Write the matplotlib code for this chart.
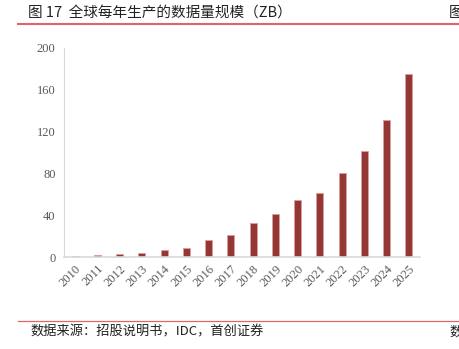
import matplotlib
matplotlib.use("Agg")
import matplotlib.pyplot as plt
from matplotlib.lines import Line2D

years = ["2010", "2011", "2012", "2013", "2014", "2015", "2016", "2017",
         "2018", "2019", "2020", "2021", "2022", "2023", "2024", "2025"]
zb = [1.2, 2, 3, 4, 6.5, 8.5, 16, 21.5, 33, 41, 55, 61.5, 80, 101, 131, 175]
yticks = [0, 40, 80, 120, 160, 200]

cjk = ["Noto Sans CJK SC", "DejaVu Sans"]

fig = plt.figure(figsize=(4.59, 3.49), dpi=100)
ax = fig.add_axes([0.1394, 0.2636, 0.7756, 0.5989])

x = range(len(years))
ax.bar(x, zb, width=0.32, color="#943634", edgecolor="#d9a0a0", linewidth=0.6)

ax.set_xlim(-0.5, len(years) - 0.5)
ax.set_ylim(0, 200)
ax.set_yticks(yticks)
ax.set_xticks(list(x))
ax.set_xticklabels(years, rotation=45, ha="right", rotation_mode="anchor")
for lab in ax.get_xticklabels() + ax.get_yticklabels():
    lab.set_fontfamily("Liberation Serif")
    lab.set_fontsize(9)
    lab.set_color("#595959")
ax.tick_params(length=0, pad=6)
ax.tick_params(axis="x", pad=4)

for s in ["top", "right"]:
    ax.spines[s].set_visible(False)
ax.spines["left"].set_color("#d9d9d9")
ax.spines["bottom"].set_color("#d9d9d9")
ax.spines["bottom"].set_linewidth(1.2)

fig.text(28 / 459, 1 - 13 / 349, "图 17  全球每年生产的数据量规模（ZB）", family=cjk,
         fontsize=10.5, va="center", ha="left", color="#222222")
fig.text(449 / 459, 1 - 13 / 349, "图", family=cjk, fontsize=10.5,
         va="center", ha="left", color="#222222")
fig.add_artist(Line2D([18 / 459, 1], [1 - 24 / 349] * 2, color="#e06666", lw=1.5))
fig.add_artist(Line2D([18 / 459, 1], [1 - 321 / 349] * 2, color="#e06666", lw=0.9))
fig.text(30 / 459, 1 - 332 / 349, "数据来源：招股说明书，IDC，首创证券", family=cjk,
         fontsize=9.5, style="italic", va="center", ha="left", color="#222222")
fig.text(449 / 459, 1 - 332 / 349, "数", family=cjk, fontsize=9.5,
         style="italic", va="center", ha="left", color="#222222")

fig.savefig("out.png", dpi=100)
